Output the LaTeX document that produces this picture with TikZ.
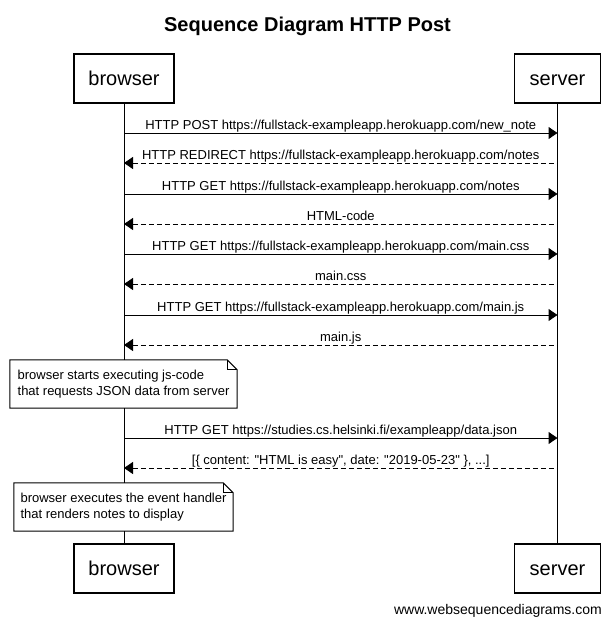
\documentclass[tikz,border=0pt]{standalone}
\usepackage{fontspec}
\setmainfont{Liberation Sans}
\usetikzlibrary{arrows.meta,calc}

\tikzset{
    actor/.style={draw, line width=1.2pt, fill=white, minimum height=49pt,
        inner sep=0pt, text height=14.5pt, text depth=0pt,
        font=\fontsize{20}{24}\selectfont},
    lifeline/.style={line width=1pt},
    call/.style={line width=1pt, -{Triangle[length=9pt,width=12pt]}},
    reply/.style={line width=1pt, dash pattern=on 5pt off 3pt,
        {Triangle[length=9pt,width=12pt]}-},
    msg/.style={anchor=base, yshift=4pt, inner sep=0pt,
        font=\fontsize{13}{15}\selectfont},
    note/.style={fill=white, minimum height=48pt, inner sep=0pt, align=left,
        font=\fontsize{13}{16}\selectfont},
    noteline/.style={line width=1pt, line join=miter},
}

\begin{document}
\begin{tikzpicture}[x=1pt,y=-1pt]
    \useasboundingbox (0,0) rectangle (615,627);

    \node[anchor=base, font=\fontsize{20}{24}\selectfont\bfseries] (title)
        at (307.5,31.5) {Sequence Diagram HTTP Post};

    % participants, top and bottom
    \node[actor, minimum width=100pt] (btop) at (124,78.5) {browser};
    \node[actor, minimum width=86pt] (stop) at (557.5,78.5) {server};
    \node[actor, minimum width=100pt] (bbot) at (124,568.5) {browser};
    \node[actor, minimum width=86pt] (sbot) at (557.5,568.5) {server};

    \draw[lifeline] (btop) -- (bbot);
    \draw[lifeline] (stop) -- (sbot);

    % messages
    \foreach \y/\sty/\txt in {
        133/call/{HTTP POST https://fullstack-exampleapp.herokuapp.com/new\_note},
        163/reply/{HTTP REDIRECT https://fullstack-exampleapp.herokuapp.com/notes},
        194/call/{HTTP GET https://fullstack-exampleapp.herokuapp.com/notes},
        224/reply/{HTML-code},
        254/call/{HTTP GET https://fullstack-exampleapp.herokuapp.com/main.css},
        284/reply/{main.css},
        315/call/{HTTP GET https://fullstack-exampleapp.herokuapp.com/main.js},
        345/reply/{main.js},
        438/call/{HTTP GET https://studies.cs.helsinki.fi/exampleapp/data.json},
        468/reply/{[\{ content: \textquotedbl HTML is easy\textquotedbl, date: \textquotedbl 2019-05-23\textquotedbl\ \}, ...]}}
    {
        \coordinate (b\y) at (btop |- 0,\y);
        \coordinate (s\y) at (stop |- 0,\y);
        \draw[\sty] (b\y) -- (s\y);
        \node[msg] (m\y) at ($(b\y)!0.5!(s\y)$) {\txt};
    }

    % notes over the browser
    \node[note, minimum width=227pt] (n1) at (123.5,384)
        {browser starts executing js-code\\that requests JSON data from server};
    \node[note, minimum width=219pt] (n2) at (123.5,507)
        {browser executes the event handler\\that renders notes to display};
    \foreach \n in {n1,n2} {
        \draw[noteline] (\n.north west) -- ([xshift=-10pt]\n.north east)
            -- ([yshift=-10pt]\n.north east) -- (\n.south east)
            -- (\n.south west) -- cycle;
        \draw[noteline] ([xshift=-10pt]\n.north east) |- ([yshift=-10pt]\n.north east);
    }

    \node[anchor=base east, inner sep=0pt, font=\fontsize{14}{16}\selectfont] (wsd)
        at (602,614) {www.websequencediagrams.com};

\end{tikzpicture}
\end{document}
